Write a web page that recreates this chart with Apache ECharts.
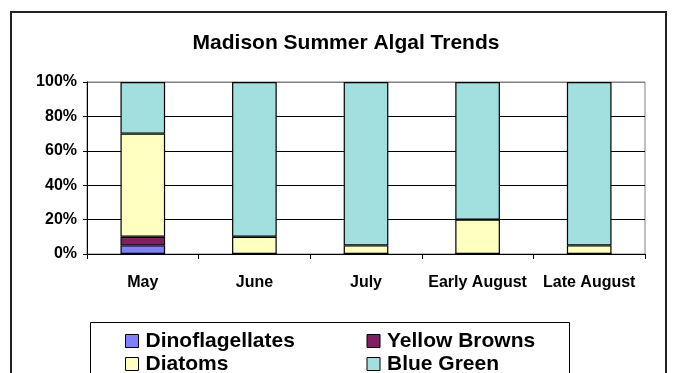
<!DOCTYPE html>
<html>
<head>
<meta charset="utf-8">
<script src="https://cdn.jsdelivr.net/npm/echarts@6/dist/echarts.min.js"></script>
<style>
html,body{margin:0;padding:0;background:#fff;}
#chart{width:673px;height:373px;}
</style>
</head>
<body>
<div id="chart"></div>
<script>
const categories = ['May', 'June', 'July', 'Early August', 'Late August'];
const dinoflagellates = [5, 0, 0, 0, 0];
const yellowBrowns = [5, 0, 0, 0, 0];
const diatoms = [60, 10, 5, 20, 5];
const blueGreen = [30, 90, 95, 80, 95];
const yTicks = [0, 20, 40, 60, 80, 100];
const titleText = 'Madison Summer Algal Trends';

const FONT = '"Liberation Sans", Arial, sans-serif';
const chart = echarts.init(document.getElementById('chart'));

function bar(name, data, color) {
  return {
    name: name, type: 'bar', stack: 'total', data: data,
    barCategoryGap: '60%',
    itemStyle: { color: color, borderColor: '#000', borderWidth: 1.2 },
    emphasis: { disabled: true }
  };
}

const legendText = { fontFamily: FONT, fontWeight: 'bold', fontSize: 21, color: '#000', width: 212, lineHeight: 22, padding: [0, 0, 0, 2] };

chart.setOption({
  animation: false,
  backgroundColor: '#fff',
  title: {
    text: titleText, left: 341, top: 28, textAlign: 'center',
    textStyle: { fontFamily: FONT, fontWeight: 'bold', fontSize: 21, color: '#000' }
  },
  grid: { left: 87, right: 28, top: 82, bottom: 119, show: true, borderColor: '#808080', borderWidth: 1, backgroundColor: 'transparent' },
  xAxis: {
    type: 'category', data: categories,
    axisLine: { lineStyle: { color: '#000', width: 1 } },
    axisTick: { show: true, length: 5, lineStyle: { color: '#000' } },
    axisLabel: { fontFamily: FONT, fontWeight: 'bold', fontSize: 16, color: '#000', margin: 21, interval: 0 }
  },
  yAxis: {
    type: 'value', min: yTicks[0], max: yTicks[yTicks.length - 1], interval: 20,
    axisLine: { show: true, lineStyle: { color: '#000', width: 1 } },
    axisTick: { show: true, length: 4, lineStyle: { color: '#000' } },
    axisLabel: { fontFamily: FONT, fontWeight: 'bold', fontSize: 16, color: '#000', margin: 10, formatter: v => v + '%' },
    splitLine: { show: true, lineStyle: { color: ['#000', '#000', '#000', '#000', '#000', '#808080'], width: 1 } }
  },
  legend: [
    {
      data: ['Dinoflagellates', 'Yellow Browns'], left: 125, top: 330, padding: 0,
      itemWidth: 13, itemHeight: 13, itemGap: 9, icon: 'rect',
      itemStyle: { borderColor: '#000', borderWidth: 1 },
      textStyle: legendText, selectedMode: false
    },
    {
      data: ['Diatoms', 'Blue Green'], left: 125, top: 353, padding: 0,
      itemWidth: 13, itemHeight: 13, itemGap: 9, icon: 'rect',
      itemStyle: { borderColor: '#000', borderWidth: 1 },
      textStyle: legendText, selectedMode: false
    }
  ],
  graphic: [
    { type: 'rect', shape: { x: 11, y: 12, width: 655, height: 380 }, style: { fill: null, stroke: '#222', lineWidth: 2 }, silent: true },
    { type: 'rect', shape: { x: 90.5, y: 322.5, width: 479, height: 80 }, style: { fill: null, stroke: '#000', lineWidth: 1 }, silent: true }
  ],
  series: [
    bar('Dinoflagellates', dinoflagellates, '#8080FF'),
    bar('Yellow Browns', yellowBrowns, '#802060'),
    bar('Diatoms', diatoms, '#FFFFC0'),
    bar('Blue Green', blueGreen, '#A2DFDF')
  ]
});
</script>
</body>
</html>
